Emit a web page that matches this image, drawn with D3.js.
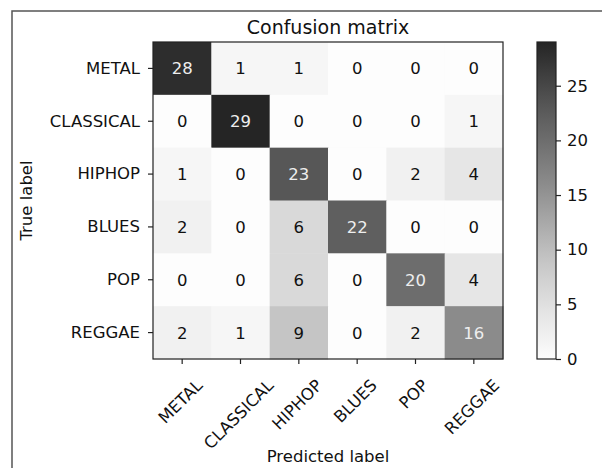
<!DOCTYPE html>
<html>
<head>
<meta charset="utf-8">
<script src="https://cdn.jsdelivr.net/npm/d3@7"></script>
<style>
  body { margin: 0; background: #fff; }
  svg { display: block; font-family: "DejaVu Sans", sans-serif; }
</style>
</head>
<body>
<div class="svg-holder"></div>
<script>
// class names, same order on both axes
let classes = ["METAL", "CLASSICAL", "HIPHOP", "BLUES", "POP", "REGGAE"];
// rows = true label, cols = predicted label
let rowMetal     = [28, 1, 1, 0, 0, 0];
let rowClassical = [0, 29, 0, 0, 0, 1];
let rowHiphop    = [1, 0, 23, 0, 2, 4];
let rowBlues     = [2, 0, 6, 22, 0, 0];
let rowPop       = [0, 0, 6, 0, 20, 4];
let rowReggae    = [2, 1, 9, 0, 2, 16];
let colorbarTicks = [0, 5, 10, 15, 20, 25];

let matrix = [rowMetal, rowClassical, rowHiphop, rowBlues, rowPop, rowReggae];

let dims = { width: 602, height: 468,
             plot: { left: 153, right: 503, top: 42, bottom: 359 },
             cbar: { left: 537, right: 556 } };
let fontSize = 16.5;

let svg = d3.create("svg")
  .attr("width", dims.width)
  .attr("height", dims.height)
  .attr("viewBox", [0, 0, dims.width, dims.height]);
// attach right away so text lengths can be measured
document.querySelector(".svg-holder").appendChild(svg.node());

// outer frame (only top + left edge show)
svg.append("path")
  .attr("d", `M12,${dims.height} V11 H${dims.width}`)
  .attr("fill", "none")
  .attr("stroke", "#555")
  .attr("stroke-width", 1.5);

let cells = [];
matrix.forEach((row, i) => row.forEach((v, j) => cells.push({ row: i, col: j, value: v })));
let vmax = d3.max(cells, d => d.value);

let x = d3.scaleBand().domain(d3.range(classes.length))
  .range([dims.plot.left, dims.plot.right]);
let y = d3.scaleBand().domain(d3.range(classes.length))
  .range([dims.plot.top, dims.plot.bottom]);
// greys, a bit washed out at the dark end like the screenshot
let color = d3.scaleSequential(t => d3.interpolateGreys(0.02 + 0.86 * Math.pow(t, 0.85)))
  .domain([0, vmax]);

svg.append("g")
  .selectAll("rect")
  .data(cells)
  .join("rect")
  .attr("x", d => x(d.col))
  .attr("y", d => y(d.row))
  .attr("width", x.bandwidth() + 0.5)
  .attr("height", y.bandwidth() + 0.5)
  .attr("fill", d => color(d.value));

svg.append("g")
  .selectAll("text")
  .data(cells)
  .join("text")
  .attr("x", d => x(d.col) + x.bandwidth() / 2)
  .attr("y", d => y(d.row) + y.bandwidth() / 2)
  .attr("dy", "0.36em")
  .attr("text-anchor", "middle")
  .attr("font-size", fontSize)
  .attr("fill", d => d.value > vmax / 2 ? "#eee" : "#111")
  .text(d => d.value);

// frame around the matrix
svg.append("rect")
  .attr("x", dims.plot.left)
  .attr("y", dims.plot.top)
  .attr("width", dims.plot.right - dims.plot.left)
  .attr("height", dims.plot.bottom - dims.plot.top)
  .attr("fill", "none")
  .attr("stroke", "#222")
  .attr("stroke-width", 1.2);

// y axis: true labels
let yAxis = d3.axisLeft(y).tickFormat(i => classes[i]).tickSize(5).tickPadding(8);
svg.append("g")
  .attr("transform", `translate(${dims.plot.left},0)`)
  .call(yAxis)
  .call(g => g.select(".domain").remove())
  .call(g => g.selectAll("line").attr("stroke", "#222").attr("stroke-width", 1.2))
  .call(g => g.selectAll("text")
    .attr("font-size", fontSize)
    .attr("font-family", "DejaVu Sans")
    .attr("fill", "#111"));

// x axis: predicted labels, rotated 45 and centred under the tick like matplotlib
let xAxis = d3.axisBottom(x).tickFormat(i => classes[i]).tickSize(5).tickPadding(0);
let xg = svg.append("g")
  .attr("transform", `translate(0,${dims.plot.bottom})`)
  .call(xAxis)
  .call(g => g.select(".domain").remove())
  .call(g => g.selectAll("line").attr("stroke", "#222").attr("stroke-width", 1.2));
let capH = 0.73 * fontSize;
xg.selectAll("text")
  .attr("font-size", fontSize)
  .attr("font-family", "DejaVu Sans")
  .attr("fill", "#111")
  .attr("text-anchor", "middle")
  .attr("y", 0)
  .attr("dy", "0.36em")
  .each(function() {
    let w = this.getComputedTextLength();
    let half = (w + capH) / (2 * Math.SQRT2);
    d3.select(this).attr("transform", `translate(-2,${19 + half}) rotate(-45)`);
  });

// title and axis labels
svg.append("text")
  .attr("x", (dims.plot.left + dims.plot.right) / 2)
  .attr("y", 33.5)
  .attr("text-anchor", "middle")
  .attr("font-size", 19)
  .attr("fill", "#111")
  .text("Confusion matrix");

svg.append("text")
  .attr("transform", `translate(32,${(dims.plot.top + dims.plot.bottom) / 2}) rotate(-90)`)
  .attr("text-anchor", "middle")
  .attr("font-size", fontSize)
  .attr("fill", "#111")
  .text("True label");

svg.append("text")
  .attr("x", (dims.plot.left + dims.plot.right) / 2)
  .attr("y", 462)
  .attr("text-anchor", "middle")
  .attr("font-size", fontSize)
  .attr("fill", "#111")
  .text("Predicted label");

// colorbar
let cy = d3.scaleLinear().domain([0, vmax]).range([dims.plot.bottom, dims.plot.top]);
let grad = svg.append("defs").append("linearGradient")
  .attr("id", "cbar-grad")
  .attr("x1", 0).attr("y1", 1).attr("x2", 0).attr("y2", 0);
grad.selectAll("stop")
  .data(d3.range(0, 1.0001, 0.05))
  .join("stop")
  .attr("offset", d => d)
  .attr("stop-color", d => color(d * vmax));

svg.append("rect")
  .attr("x", dims.cbar.left)
  .attr("y", dims.plot.top)
  .attr("width", dims.cbar.right - dims.cbar.left)
  .attr("height", dims.plot.bottom - dims.plot.top)
  .attr("fill", "url(#cbar-grad)")
  .attr("stroke", "#222")
  .attr("stroke-width", 1.2);

svg.append("g")
  .attr("transform", `translate(${dims.cbar.right},0)`)
  .call(d3.axisRight(cy).tickValues(colorbarTicks).tickSize(5).tickPadding(6))
  .call(g => g.select(".domain").remove())
  .call(g => g.selectAll("line").attr("stroke", "#222").attr("stroke-width", 1.2))
  .call(g => g.selectAll("text")
    .attr("font-size", fontSize)
    .attr("font-family", "DejaVu Sans")
    .attr("fill", "#111"));
</script>
</body>
</html>
